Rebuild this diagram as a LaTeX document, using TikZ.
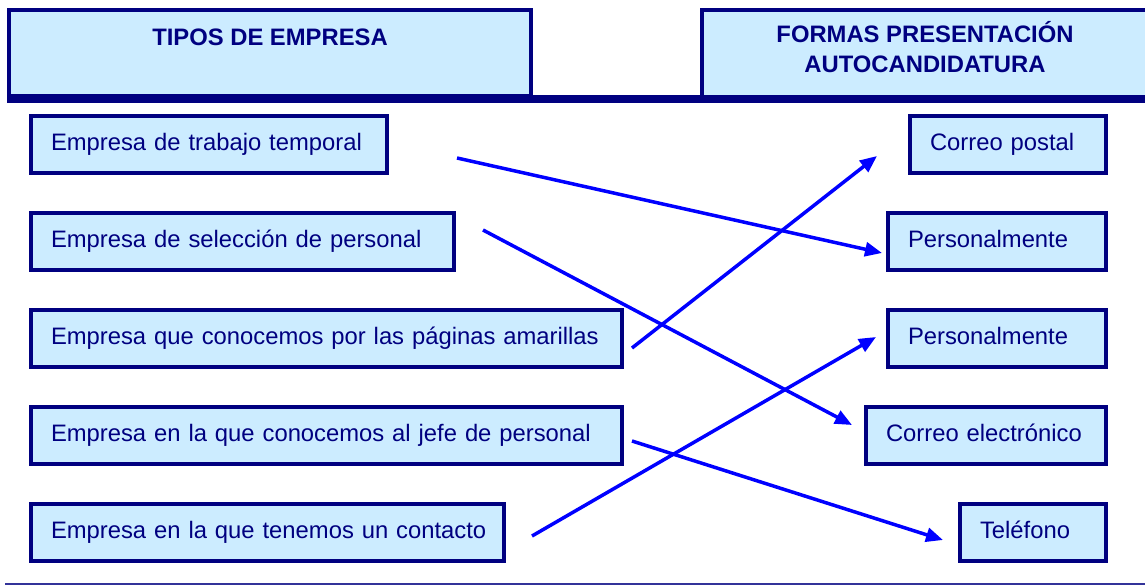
\documentclass[tikz,border=0pt]{standalone}
\usepackage{fontspec}
\setmainfont{Liberation Sans}
\usetikzlibrary{arrows.meta}
\usetikzlibrary{positioning}
\definecolor{marino}{RGB}{0,0,128}
\definecolor{celeste}{RGB}{204,236,255}
\definecolor{azul}{RGB}{0,0,255}
\definecolor{linea}{RGB}{51,51,153}

\begin{document}
\begin{tikzpicture}[x=1pt, y=-1pt,
      node distance=40pt,
      caja/.style={draw=marino, fill=celeste, line width=3.5pt,
        text=marino, font=\fontsize{23.8}{29}\selectfont,
        outer sep=0pt, inner xsep=20pt, inner ysep=0pt,
        text height=18pt, text depth=6pt,
        minimum height=57pt, align=left, text width=#1pt-40pt,
        execute at begin node={\hbox to 0pt\bgroup},
        execute at end node={\hss\egroup}},
      titulo/.style={text=marino, font=\bfseries\fontsize{23.8}{29}\selectfont,
        align=center, inner sep=0pt},
      flecha/.style={-{Triangle[length=17pt,width=14pt]}, draw=azul,
        line width=3.5pt}]

    \useasboundingbox (0,0) rectangle (1145,586);

    \node[caja=522, minimum height=86pt, anchor=north west]
      (tipos) at (9,10) {};
    \fill[celeste] (702,10) rectangle (1145,96);
    \draw[marino, line width=3.5pt] (1145,10) -- (702,10) -- (702,96);
    \fill[marino] (7,95) rectangle (1145,103);
    \node[titulo, anchor=base]
      (tiposT) at (270,46) {TIPOS DE EMPRESA};
    \node[titulo, anchor=base]
      (formas) at (925,72) {FORMAS PRESENTACIÓN\\AUTOCANDIDATURA};

    \node[caja=356, anchor=north west]
      (trabajo) at (31,116) {Empresa de trabajo temporal};
    \node[caja=423, below=40pt of trabajo.south west, anchor=north west]
      (seleccion) {Empresa de selección de personal};
    \node[caja=591, below=40pt of seleccion.south west, anchor=north west]
      (amarillas) {Empresa que conocemos por las páginas amarillas};
    \node[caja=591, below=40pt of amarillas.south west, anchor=north west]
      (jefe) {Empresa en la que conocemos al jefe de personal};
    \node[caja=473, below=40pt of jefe.south west, anchor=north west]
      (contacto) {Empresa en la que tenemos un contacto};

    \node[caja=196, anchor=north east]
      (postal) at (1106,116) {Correo postal};
    \node[caja=218, below=40pt of postal.south east, anchor=north east]
      (personal1) {Personalmente};
    \node[caja=218, below=40pt of personal1.south east, anchor=north east]
      (personal2) {Personalmente};
    \node[caja=240, below=40pt of personal2.south east, anchor=north east]
      (email) {Correo electrónico};
    \node[caja=146, below=40pt of email.south east, anchor=north east]
      (telefono) {Teléfono};

    \coordinate (s1) at (457,158);  \coordinate (e1) at (882,253);
    \coordinate (s2) at (483,230);  \coordinate (e2) at (852,425);
    \coordinate (s3) at (632,348);  \coordinate (e3) at (877,156);
    \coordinate (s4) at (632,441);  \coordinate (e4) at (943,540);
    \coordinate (s5) at (532,536);  \coordinate (e5) at (876,337);

    \draw[flecha] (s1) -- (e1);
    \draw[flecha] (s2) -- (e2);
    \draw[flecha] (s3) -- (e3);
    \draw[flecha] (s4) -- (e4);
    \draw[flecha] (s5) -- (e5);

    \draw[linea, line width=1.5pt] (5,584) -- (1145,584);

  \end{tikzpicture}
\end{document}
